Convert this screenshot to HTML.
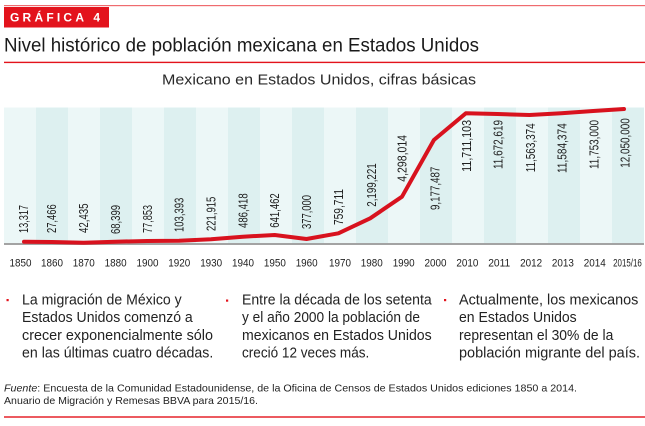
<!DOCTYPE html>
<html><head><meta charset="utf-8">
<style>
html,body{margin:0;padding:0;background:#fff;}
svg{display:block;}
text{font-family:"Liberation Sans",sans-serif;}
</style></head>
<body>
<svg width="645" height="426" viewBox="0 0 645 426" xmlns="http://www.w3.org/2000/svg">
<rect width="645" height="426" fill="#fff"/>
<!-- header -->
<rect x="4" y="5" width="641" height="1.2" fill="#ef6b6f"/>
<rect x="4" y="7" width="105" height="20.5" fill="#e3131c"/>
<text x="10" y="21.7" font-size="12" font-weight="bold" fill="#fff" textLength="90" lengthAdjust="spacing">GRÁFICA 4</text>
<text x="4" y="51.7" font-size="19" fill="#1a1a1a" textLength="475" lengthAdjust="spacingAndGlyphs">Nivel histórico de población mexicana en Estados Unidos</text>
<rect x="4" y="61.7" width="641" height="1.4" fill="#e3131c"/>
<text x="162" y="84.3" font-size="14.5" fill="#2a2a2a" textLength="314" lengthAdjust="spacingAndGlyphs">Mexicano en Estados Unidos, cifras básicas</text>

<!-- bands -->
<g>
<rect x="4" y="107.5" width="32" height="135.5" fill="#ecf7f7"/>
<rect x="36" y="107.5" width="32" height="135.5" fill="#ddf0f0"/>
<rect x="68" y="107.5" width="32" height="135.5" fill="#ecf7f7"/>
<rect x="100" y="107.5" width="32" height="135.5" fill="#ddf0f0"/>
<rect x="132" y="107.5" width="32" height="135.5" fill="#ecf7f7"/>
<rect x="164" y="107.5" width="32" height="135.5" fill="#ddf0f0"/>
<rect x="196" y="107.5" width="32" height="135.5" fill="#ecf7f7"/>
<rect x="228" y="107.5" width="32" height="135.5" fill="#ddf0f0"/>
<rect x="260" y="107.5" width="32" height="135.5" fill="#ecf7f7"/>
<rect x="292" y="107.5" width="32" height="135.5" fill="#ddf0f0"/>
<rect x="324" y="107.5" width="32" height="135.5" fill="#ecf7f7"/>
<rect x="356" y="107.5" width="32" height="135.5" fill="#ddf0f0"/>
<rect x="388" y="107.5" width="32" height="135.5" fill="#ecf7f7"/>
<rect x="420" y="107.5" width="32" height="135.5" fill="#ddf0f0"/>
<rect x="452" y="107.5" width="32" height="135.5" fill="#ecf7f7"/>
<rect x="484" y="107.5" width="32" height="135.5" fill="#ddf0f0"/>
<rect x="516" y="107.5" width="32" height="135.5" fill="#ecf7f7"/>
<rect x="548" y="107.5" width="32" height="135.5" fill="#ddf0f0"/>
<rect x="580" y="107.5" width="32" height="135.5" fill="#ecf7f7"/>
<rect x="612" y="107.5" width="32" height="135.5" fill="#ddf0f0"/>
</g>
<!-- axis -->
<rect x="4" y="243" width="640" height="2" fill="#a3a3a3"/>

<!-- data labels -->
<g font-size="12.5" fill="#1e1e1e">
<text transform="translate(28,233) rotate(-90)" textLength="28" lengthAdjust="spacingAndGlyphs">13,317</text>
<text transform="translate(56.2,233) rotate(-90)" textLength="28.7" lengthAdjust="spacingAndGlyphs">27,466</text>
<text transform="translate(88,233) rotate(-90)" textLength="29.5" lengthAdjust="spacingAndGlyphs">42,435</text>
<text transform="translate(119.9,234) rotate(-90)" textLength="29" lengthAdjust="spacingAndGlyphs">68,399</text>
<text transform="translate(151.8,233) rotate(-90)" textLength="28" lengthAdjust="spacingAndGlyphs">77,853</text>
<text transform="translate(183.6,232) rotate(-90)" textLength="34.3" lengthAdjust="spacingAndGlyphs">103,393</text>
<text transform="translate(215.5,231) rotate(-90)" textLength="34.3" lengthAdjust="spacingAndGlyphs">221,915</text>
<text transform="translate(247.3,228) rotate(-90)" textLength="34.7" lengthAdjust="spacingAndGlyphs">486,418</text>
<text transform="translate(279.2,227.7) rotate(-90)" textLength="34.4" lengthAdjust="spacingAndGlyphs">641,462</text>
<text transform="translate(311,229) rotate(-90)" textLength="34" lengthAdjust="spacingAndGlyphs">377,000</text>
<text transform="translate(342.9,225) rotate(-90)" textLength="36" lengthAdjust="spacingAndGlyphs">759,711</text>
<text transform="translate(376.2,206.7) rotate(-90)" textLength="43.4" lengthAdjust="spacingAndGlyphs">2,199,221</text>
<text transform="translate(406.5,181.7) rotate(-90)" textLength="46.7" lengthAdjust="spacingAndGlyphs">4,298,014</text>
<text transform="translate(439.5,210) rotate(-90)" textLength="43.3" lengthAdjust="spacingAndGlyphs">9,177,487</text>
<text transform="translate(471.2,171.7) rotate(-90)" textLength="51.7" lengthAdjust="spacingAndGlyphs">11,711,103</text>
<text transform="translate(502.5,169) rotate(-90)" textLength="49" lengthAdjust="spacingAndGlyphs">11,672,619</text>
<text transform="translate(535.2,172.3) rotate(-90)" textLength="49" lengthAdjust="spacingAndGlyphs">11,563,374</text>
<text transform="translate(566.5,173) rotate(-90)" textLength="49.7" lengthAdjust="spacingAndGlyphs">11,584,374</text>
<text transform="translate(598.5,169) rotate(-90)" textLength="49" lengthAdjust="spacingAndGlyphs">11,753,000</text>
<text transform="translate(629.5,167.7) rotate(-90)" textLength="49.4" lengthAdjust="spacingAndGlyphs">12,050,000</text>
</g>

<!-- line -->
<polyline fill="none" stroke="#d8121e" stroke-width="4" stroke-linejoin="round" stroke-linecap="round"
points="24,241.7 51.8,242 83.6,242.7 115.4,241.7 147.3,241 179.1,240.7 211,239.3 242.8,236.7 274.7,235 306.5,239 338.4,233.3 370.2,218.3 402,196.7 433.9,140 465.8,113.3 497.6,114 529.5,115 561.3,113.3 593.2,111 624,109"/>

<!-- year labels -->
<g font-size="11" fill="#222" text-anchor="middle">
<text x="20.5" y="266.5" textLength="22" lengthAdjust="spacingAndGlyphs">1850</text>
<text x="52" y="266.5" textLength="22" lengthAdjust="spacingAndGlyphs">1860</text>
<text x="83.8" y="266.5" textLength="22" lengthAdjust="spacingAndGlyphs">1870</text>
<text x="115.6" y="266.5" textLength="22" lengthAdjust="spacingAndGlyphs">1880</text>
<text x="147.5" y="266.5" textLength="22" lengthAdjust="spacingAndGlyphs">1900</text>
<text x="179.3" y="266.5" textLength="22" lengthAdjust="spacingAndGlyphs">1920</text>
<text x="211.2" y="266.5" textLength="22" lengthAdjust="spacingAndGlyphs">1930</text>
<text x="243" y="266.5" textLength="22" lengthAdjust="spacingAndGlyphs">1940</text>
<text x="274.9" y="266.5" textLength="22" lengthAdjust="spacingAndGlyphs">1950</text>
<text x="306.7" y="266.5" textLength="22" lengthAdjust="spacingAndGlyphs">1960</text>
<text x="340" y="266.5" textLength="22" lengthAdjust="spacingAndGlyphs">1970</text>
<text x="371.8" y="266.5" textLength="22" lengthAdjust="spacingAndGlyphs">1980</text>
<text x="403.7" y="266.5" textLength="22" lengthAdjust="spacingAndGlyphs">1990</text>
<text x="435.5" y="266.5" textLength="22" lengthAdjust="spacingAndGlyphs">2000</text>
<text x="467.4" y="266.5" textLength="22" lengthAdjust="spacingAndGlyphs">2010</text>
<text x="499.2" y="266.5" textLength="22" lengthAdjust="spacingAndGlyphs">2011</text>
<text x="531.1" y="266.5" textLength="22" lengthAdjust="spacingAndGlyphs">2012</text>
<text x="562.9" y="266.5" textLength="22" lengthAdjust="spacingAndGlyphs">2013</text>
<text x="594.8" y="266.5" textLength="22" lengthAdjust="spacingAndGlyphs">2014</text>
<text x="627.5" y="266.5" textLength="28.7" lengthAdjust="spacingAndGlyphs">2015/16</text>
</g>

<!-- bullets -->
<rect x="6.5" y="299" width="2.2" height="2.2" fill="#e3131c"/>
<rect x="226" y="299.5" width="2.2" height="2.2" fill="#e3131c"/>
<rect x="444" y="299" width="2.2" height="2.2" fill="#e3131c"/>
<g font-size="14.6" fill="#222">
<text x="22" y="304.5" textLength="159.7" lengthAdjust="spacingAndGlyphs">La migración de México y</text>
<text x="22" y="322.2" textLength="170.7" lengthAdjust="spacingAndGlyphs">Estados Unidos comenzó a</text>
<text x="22" y="339.9" textLength="191" lengthAdjust="spacingAndGlyphs">crecer exponencialmente sólo</text>
<text x="22" y="357.6" textLength="191.3" lengthAdjust="spacingAndGlyphs">en las últimas cuatro décadas.</text>

<text x="242" y="304.5" textLength="189.7" lengthAdjust="spacingAndGlyphs">Entre la década de los setenta</text>
<text x="242" y="322.2" textLength="178" lengthAdjust="spacingAndGlyphs">y el año 2000 la población de</text>
<text x="242" y="339.9" textLength="189.7" lengthAdjust="spacingAndGlyphs">mexicanos en Estados Unidos</text>
<text x="242" y="357.6" textLength="127.3" lengthAdjust="spacingAndGlyphs">creció 12 veces más.</text>

<text x="459" y="304.5" textLength="179.3" lengthAdjust="spacingAndGlyphs">Actualmente, los mexicanos</text>
<text x="459" y="322.2" textLength="117.7" lengthAdjust="spacingAndGlyphs">en Estados Unidos</text>
<text x="459" y="339.9" textLength="154.3" lengthAdjust="spacingAndGlyphs">representan el 30% de la</text>
<text x="459" y="357.6" textLength="181" lengthAdjust="spacingAndGlyphs">población migrante del país.</text>
</g>

<!-- footer -->
<g font-size="10.5" fill="#222">
<text x="4" y="391.3" textLength="573" lengthAdjust="spacingAndGlyphs"><tspan font-style="italic">Fuente</tspan>: Encuesta de la Comunidad Estadounidense, de la Oficina de Censos de Estados Unidos ediciones 1850 a 2014.</text>
<text x="4" y="404" textLength="254" lengthAdjust="spacingAndGlyphs">Anuario de Migración y Remesas BBVA para 2015/16.</text>
</g>
<rect x="4" y="416.3" width="641" height="1.4" fill="#e3131c"/>
</svg>
</body></html>
